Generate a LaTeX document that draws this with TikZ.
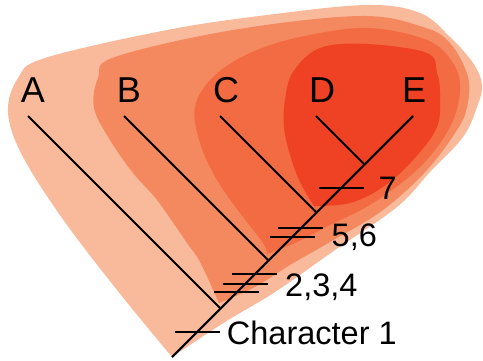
\documentclass[tikz,border=0pt]{standalone}
\usepackage{fontspec}
\setmainfont{Liberation Sans}
\usepackage{tikz}
\usetikzlibrary{positioning,calc}
\definecolor{cladeI}{HTML}{F9BA9B}
\definecolor{cladeII}{HTML}{F4895F}
\definecolor{cladeIII}{HTML}{F26B43}
\definecolor{cladeIV}{HTML}{EF4123}

\begin{document}
\begin{tikzpicture}[x=1bp,y=-1bp,
    taxon/.style={anchor=base,inner sep=0pt,font=\fontsize{36bp}{36bp}\selectfont},
    trait/.style={anchor=base west,inner sep=0pt,font=\fontsize{32.5bp}{32.5bp}\selectfont},
    branch/.style={line width=2.1bp}]
  \useasboundingbox (0,0) rectangle (483,360);
  % nested clades
  \fill[cladeI] plot[smooth,tension=0.6] coordinates {(172,357) (117,290) (62,218) (22,155) (8,112) (18,78) (45,58) (167,30) (267,15) (367,5) (420,13) (450,37) (473,63) (482,85) (477,107) (463,137) (430,172) (397,207) (335,250) (275,292) (225,322) (172,357)} -- cycle;
  \fill[cladeII] plot[smooth,tension=0.6] coordinates {(219,303) (200,262) (187,243) (157,200) (133,173) (110,140) (94,108) (98,78) (115,57) (233,30) (360,16) (423,27) (450,43) (468,77) (467,107) (457,130) (427,170) (383,210) (330,242) (290,265) (255,287) (219,303)} -- cycle;
  \fill[cladeIII] plot[smooth,tension=0.6] coordinates {(267,254) (263,243) (240,213) (217,180) (200,143) (195,107) (213,77) (250,53) (300,37) (367,28) (427,40) (453,63) (460,90) (450,127) (420,167) (373,203) (330,225) (295,243) (267,254)} -- cycle;
  \fill[cladeIV] plot[smooth,tension=0.6] coordinates {(314,206) (300,182) (290,155) (284,127) (285,100) (293,72) (320,48) (367,44) (427,53) (437,73) (440,93) (437,127) (413,160) (383,187) (350,203) (314,206)} -- cycle;
  % taxa
  \node[taxon] (A) at (33,102.3) {A};
  \node[taxon] (B) at (129,102.3) {B};
  \node[taxon] (C) at (226,102.3) {C};
  \node[taxon] (D) at (322,102.3) {D};
  \node[taxon] (E) at (414,102.3) {E};
  \coordinate (tA) at (28,116);
  \coordinate (tB) at (124,116);
  \coordinate (tC) at (220,116);
  \coordinate (tD) at (316,116);
  \coordinate (tE) at (413,116);
  \coordinate (root) at (172,357);
  \coordinate (jA) at (220.5,308.5);
  \coordinate (jB) at (268.5,260.5);
  \coordinate (jC) at (316.5,212.5);
  \coordinate (jD) at (364.5,164.5);
  % tree
  \draw[branch] (root) -- (tE);
  \draw[branch] (tA) -- (jA);
  \draw[branch] (tB) -- (jB);
  \draw[branch] (tC) -- (jC);
  \draw[branch] (tD) -- (jD);
  % characters
  \foreach \y in {332,292.3,283.7,274.3,237,228.3,187.7}
    \draw[branch] (529-\y-22.5,\y) -- +(45,0);
  \node[trait] (c1) at (226.7,344.3) {Character 1};
  \node[trait] (c234) at (285,296) {2,3,4};
  \node[trait] (c56) at (331.5,246) {5,6};
  \node[trait] (c7) at (378.5,199.3) {7};
\end{tikzpicture}
\end{document}
